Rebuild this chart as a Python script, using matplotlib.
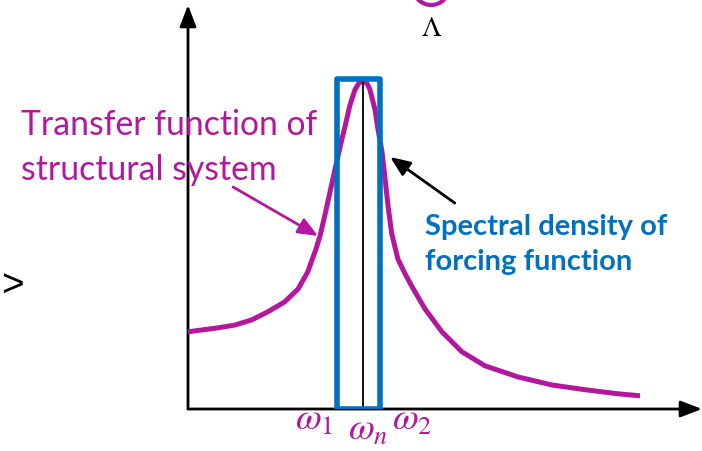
import matplotlib
matplotlib.use("Agg")
import matplotlib.pyplot as plt
from matplotlib.patches import Rectangle, Ellipse

plt.rcParams['mathtext.fontset'] = 'stix'

MAGENTA = '#B3179E'
BLUE = '#0070C0'

# transfer function curve (frequency vs amplitude)
omega = [0.00, 0.59, 0.92, 1.25, 1.56, 1.89, 2.15, 2.34, 2.50, 2.58, 2.68, 2.77,
         2.87, 2.97, 3.07, 3.16, 3.26, 3.34, 3.42, 3.50, 3.55, 3.65, 3.71, 3.79,
         3.85, 3.91, 3.98, 4.10, 4.24, 4.38, 4.63, 4.96, 5.35, 5.80, 6.45, 7.11,
         7.77, 8.40, 8.83]
H = [0.193, 0.203, 0.21, 0.223, 0.243, 0.268, 0.30, 0.343, 0.40, 0.433, 0.488, 0.54,
     0.598, 0.655, 0.708, 0.758, 0.798, 0.815, 0.82, 0.813, 0.80, 0.75, 0.70, 0.643,
     0.575, 0.505, 0.438, 0.375, 0.338, 0.305, 0.25, 0.193, 0.143, 0.108, 0.08, 0.06,
     0.048, 0.038, 0.033]

# band of the forcing spectral density
w1, wn, w2 = 2.92, 3.42, 3.75
band_height = 0.825

freq_labels = [r'$\omega_1$', r'$\omega_n$', r'$\omega_2$']
freq_label_x = [2.46, 3.52, 4.37]
freq_label_y = [-0.05, -0.075, -0.05]

tf_lines = ['Transfer function of', 'structural system']
sd_lines = ['Spectral density of', 'forcing function']

fig = plt.figure(figsize=(7.02, 4.52), dpi=100)
ax = fig.add_axes([188 / 702, 42 / 452, 514 / 702, 404 / 452])
ax.set_xlim(0, 10.04)
ax.set_ylim(0, 1.01)
ax.axis('off')

# axes with arrow heads
arrow_kw = dict(arrowstyle='-|>,head_length=1.3,head_width=0.5', color='black',
                lw=2.0, mutation_scale=10, shrinkA=0, shrinkB=0)
ax.annotate('', xy=(10.04, 0), xytext=(0, 0), arrowprops=arrow_kw, annotation_clip=False)
ax.annotate('', xy=(0, 1.01), xytext=(0, 0), arrowprops=arrow_kw, annotation_clip=False)

ax.plot(omega, H, color=MAGENTA, lw=3.6, solid_capstyle='butt', solid_joinstyle='round',
        zorder=3, clip_on=False)
ax.plot([wn, wn], [0, max(H)], color='black', lw=1.3, zorder=4)
ax.add_patch(Rectangle((w1, 0), w2 - w1, band_height, fill=False, ec=BLUE, lw=4.0,
                       joinstyle='round', zorder=5))

for lab, x, y in zip(freq_labels, freq_label_x, freq_label_y):
    ax.text(x, y, lab, color=MAGENTA, fontsize=27, ha='center', va='baseline',
            clip_on=False)

for line, y in zip(tf_lines, [0.6875, 0.575]):
    ax.text(-3.26, y, line, color=MAGENTA, fontsize=24.3, family='Lato',
            ha='left', va='baseline', clip_on=False)
for line, y in zip(sd_lines, [0.4375, 0.35]):
    ax.text(4.63, y, line, color=BLUE, fontsize=21, family='Lato', fontweight='bold',
            ha='left', va='baseline', clip_on=False)

ax.annotate('', xy=(2.54, 0.4325), xytext=(0.88, 0.555),
            arrowprops=dict(arrowstyle='-|>,head_length=1.2,head_width=0.5', color=MAGENTA,
                            lw=2.0, mutation_scale=10, shrinkA=0, shrinkB=0),
            annotation_clip=False)
ax.annotate('', xy=(3.95, 0.63), xytext=(5.21, 0.515),
            arrowprops=dict(arrowstyle='-|>,head_length=1.2,head_width=0.5', color='black',
                            lw=2.0, mutation_scale=10, shrinkA=0, shrinkB=0),
            annotation_clip=False)

# cut-off pieces at the edges of the slide
ax.add_patch(Ellipse((4.75, 1.055), 0.70, 0.09, fill=False, ec=MAGENTA, lw=3.0,
                     clip_on=False))
ax.text(4.75, 0.935, r'$\mathit{\Lambda}$', fontsize=20, ha='center', va='baseline',
        clip_on=False)
ax.text(-3.66, 0.31, '>', fontsize=28, family='Liberation Sans',
        ha='left', va='center', clip_on=False)

fig.savefig('out.png', dpi=100)
